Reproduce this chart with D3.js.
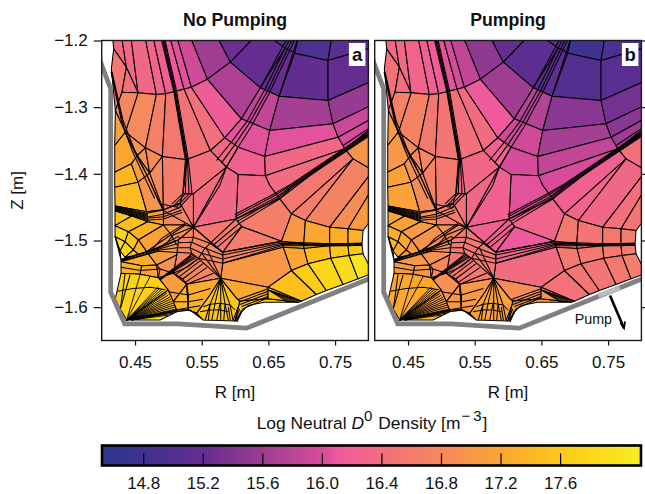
<!DOCTYPE html>
<html>
<head>
<meta charset="utf-8">
<style>
    html, body { margin: 0; padding: 0; background: #fff; }
    svg { display: block; }
    text { font-family: "Liberation Sans", Arial, sans-serif; fill: #111; }
    .domain { display: none; }
    .tick line { stroke: #111; stroke-width: 1.2px; }
    .tick text { font-size: 17px; }
</style>
<script src="https://d3js.org/d3.v7.min.js"></script>
</head>
<body>
<svg id="chart" width="645" height="494"></svg>
<script>
// R / Z in mm
var meshNodes = {
    T1:[416,-1192],T2:[429.5,-1192],T3:[443.5,-1192],T4:[464.5,-1192],T5:[476.5,-1192],T6:[490,-1192],T7:[501.5,-1192],T8:[512,-1192],
    T9:[532,-1192],T10:[572,-1192],T11:[632,-1192],T12:[647,-1192],T14:[695.5,-1192],T15:[745.5,-1192],T16:[807,-1192],
    A1:[418,-1212.5],A2:[437,-1240],A3:[454.5,-1278.5],A4:[482,-1281],A5:[496,-1280],A6:[509.5,-1276.5],A7:[523.5,-1273],A8:[534.5,-1270],
    A9:[558.5,-1258],A10:[593,-1232.5],A11:[638,-1271],A13:[666,-1283.5],A14:[739.5,-1290],A15:[807,-1260],
    X:[675.5,-1211],B1:[689.5,-1219],B2:[739.5,-1230],B3:[807,-1210],
    C0:[435.5,-1337.5],C1:[465.5,-1361],C2:[491,-1374],C3:[527,-1379],C4:[563,-1365],C5:[584.5,-1346],C6:[609.5,-1317.5],
    C8:[652,-1335],C9:[747,-1325],C10:[807,-1296],
    D1:[604.5,-1360],D2:[644.5,-1374],D3:[754.5,-1345],D4:[807,-1316],
    E0:[587,-1390],E1:[604.5,-1401],E2:[645.5,-1403],E3:[764.5,-1362.5],E4:[807,-1330],
    Th1:[807,-1336],G0:[652,-1417.5],G1:[667,-1437.5],H:[601.5,-1467.75],H2:[610,-1479.25],N:[537.5,-1480.25],
    V2:[777,-1377.5],V3:[807,-1395],Y3:[807,-1420],Y4:[807,-1465],
    P0:[684.5,-1460],P1:[705.5,-1470],P2:[742,-1480],P3:[769.5,-1482.5],P4:[792,-1485],
    Q0:[669.5,-1501],Q1:[703,-1506],Q2:[742,-1505],Q3:[769.5,-1504.5],Q4:[790.5,-1504],
    S0:[672,-1510],S1:[703.5,-1512],S2:[742,-1508],S3:[769.5,-1508],S4:[790.5,-1507],
    W0:[649.5,-1570],W1:[684.5,-1545],W2:[709.5,-1535],W3:[743.5,-1526.5],W4:[771,-1522.5],W5:[792,-1520],
    B0:[699.5,-1591],B1x:[722,-1581],B2x:[737,-1575],B3x:[762,-1566],B4x:[784.5,-1557.5],B5x:[807,-1549],
    K0:[430.5,-1277.5],K1:[420.5,-1305],N1:[414.5,-1242.5],
    L0:[419.5,-1357.5],L1:[419.5,-1397.5],L2:[419.5,-1420],L3:[420,-1448.25],
    M0:[444.5,-1385],M1:[453.5,-1372.5],I0:[472,-1399],I3:[492.5,-1454],
    J0:[454.5,-1412.5],J1:[461,-1434],J2:[467.5,-1457],Y0:[517.5,-1444.25],Y1:[522,-1430],Y2:[492,-1420],Y5:[537.5,-1430],
    ga:[420,-1455.75],gb:[445,-1463.25],gc:[469,-1471.75],gd:[492.5,-1476.75],ge:[525,-1476.75],
    ha:[420,-1477.75],hb:[440,-1486.75],hc:[455,-1499.25],hd:[467.5,-1516.75],
    ia:[420,-1494.25],ib:[435,-1501.75],ic:[447.5,-1514.25],id:[455,-1520.75],
    k0:[429,-1529.25],k1:[427.5,-1515.75],k2:[435,-1525.25],k3:[445,-1523.25],k4:[515,-1499.25],
    Z0:[581.5,-1517.75],Z1:[581.5,-1534.25],O:[578.5,-1556.75],p0:[527.5,-1565.75],p1:[562.5,-1581.75],p2:[542.5,-1609.25],p3:[530,-1604.25],
    e0:[429,-1549.25],e1:[457.5,-1550.75],e2:[485,-1555.75],e3:[507.5,-1549.25],d0:[429,-1531.75],d1:[460,-1537.75],d2:[482.5,-1536.75],d3:[512.5,-1521.75],
    f0:[420,-1589.25],hub:[437.5,-1619.25],f2:[500,-1574.25],f3:[507.5,-1591.75],f4:[512.5,-1604.25],
    dm1:[487.5,-1619.25],dm2:[512.5,-1606.75],dm3:[532.5,-1604.25],q0:[552.5,-1619.25],q1:[602.5,-1586.75],q2:[607.5,-1590.75],q3:[600,-1620.75],
    r0:[649.5,-1587.5],bd0:[695.5,-1592.5],r1:[644.5,-1592.5],r2:[619.5,-1597.5],r3:[609.5,-1607.5]
};

var cellCorners = [
    "T1 T2 A2 A1","T2 T3 A3 A2","T3 T4 A4 A3","T4 T5 A5 A4","T5 T6 A6 A5","T6 T7 A7 A6","T7 T8 A8 A7","T8 T9 A9 A8","T9 T10 A10 A9","T10 T11 A10",
    "A10 T11 T12 X A11","T12 T14 B1 X","T14 T15 B2 B1","T15 T16 B3 B2","X B1 A13 A11","B1 B2 A14 A13","B2 B3 A15 A14",
    "A3 A4 C1 C0","A4 A5 C2 C1","A5 A6 C3 C2","A6 A7 C4 C3","A7 A8 C5 C4","A8 A9 C6 C5","A9 A10 A11 C6","A11 A13 C8 C6","A13 A14 C9 C8","A14 A15 C10 C9",
    "C5 C6 C8 D2 D1","C8 C9 D3 D2","C9 C10 D4 D3","D3 D4 E4 E3","C4 C5 D1 E0","D1 D2 E2 E1 E0","D2 D3 E3 E2",
    "E2 E3 G1 G0","E3 E4 Th1","E3 Th1 V3 V2","E1 E2 G0 G1 H","E0 E1 H N","C3 C4 E0 Y5 Y1","Y5 E0 N",
    "E3 V2 P0 G1","V2 P1 P0","V2 V3 P2 P1","V3 Y3 P3 P2","Y3 Y4 P4 P3",
    "P0 P1 Q1 Q0","P1 P2 Q2 Q1","P2 P3 Q3 Q2","P3 P4 Q4 Q3",
    "Q0 Q1 S1 S0","Q1 Q2 S2 S1","Q2 Q3 S3 S2","Q3 Q4 S4 S3",
    "S0 S1 W2 W1","S1 S2 W3 W2","S2 S3 W4 W3","S3 S4 W5 W4",
    "W0 W1 B1x B0","W1 W2 B2x B1x","W2 W3 B3x B2x","W3 W4 B4x B3x","W4 W5 B5x B4x",
    "A1 A2 K0 K1 N1","A2 A3 K0","K1 K0 A3 C0","K1 C0 L0","L0 C0 M1 M0 L1","C0 C1 M1",
    "L1 M0 J0 L2","M0 M1 I0 J0","M1 C1 I0","C1 C2 I0","L2 J0 J1 J2 L3","J0 I0 I3 J2 J1",
    "I0 C2 Y2 I3","Y2 C2 C3 Y1 Y0 I3","Y1 Y5 N Y0","I3 Y0 N ge gd","J2 I3 gd gc","L3 J2 gc gb ga",
    "ga gb ha","gb gc hb ha","gc gd hc hb","gd ge hd hc",
    "ha hb ib ia","hb hc ic ib","hc hd id ic",
    "ia ib k1","ib ic k2 k1","ic id k3 k2","ia k1 k0","ge N k4 hd",
    "N H H2 Z0","H G1 P0 Q0 H2","H2 Q0 Z0","Z0 Q0 S0 Z1","Z1 S0 W1 W0 O","k4 N Z0 Z1 O p0 e3 d3",
    "k0 hd d2 d1 d0","hd k4 d3 d2","d0 d1 e1 e0","d1 d2 e2 e1","d2 d3 e3 e2",
    "f0 e0 e1 e2 f2 hub","hub f2 f3 f4","hub f4 dm2 dm1","f2 e2 e3 p0 f3","f3 p0 p3 f4","f4 p3 dm3 dm2",
    "p0 O p1 p2 p3","p3 p2 q0 dm3","O q1 q2 q3 q0 p2 p1","O W0 r0 q2 q1","q2 r0 bd0 r1 r2 r3 q3","r0 W0 B0 bd0"
];

// log10 density per cell, same order as cellCorners
var densityNoPump = [
    16.3,16.3,16.3,16.25,16.2,16.1,16.05,15.95,15.6,15.25,
    15.2,15.15,14.95,15.05,15.2,15.15,15.2,
    16.8,16.65,16.55,16.45,16.4,16.15,15.7,15.85,15.65,15.55,
    16.05,16.05,15.9,16.0,16.3,16.2,16.3,
    16.35,16.5,16.95,16.3,16.3,16.4,16.35,
    16.55,16.6,16.7,16.85,17.05,
    17.0,17.2,17.3,17.35,
    17.3,17.4,17.5,17.55,
    17.2,17.45,17.55,17.6,
    17.5,17.65,17.8,17.85,18.0,
    16.55,16.45,16.75,17.15,17.2,16.95,
    17.4,17.1,16.9,16.85,17.45,16.95,
    16.8,16.6,16.5,16.75,17.1,17.3,
    17.6,17.5,17.35,17.15,
    17.75,17.55,17.35,
    17.95,17.75,17.5,17.95,16.9,
    16.55,16.6,16.6,16.75,17.0,16.75,
    17.3,17.05,17.35,17.15,16.9,
    17.75,17.5,17.9,17.1,17.4,17.65,
    17.3,17.55,17.55,17.25,17.6,17.5
];
var densityPump = [
    16.3,16.3,16.25,16.2,16.15,16.05,16.0,15.85,15.5,15.2,
    15.1,15.0,14.75,14.9,15.1,15.0,15.05,
    16.7,16.55,16.5,16.4,16.35,16.1,15.6,15.75,15.45,15.3,
    15.95,15.65,15.45,15.6,16.2,16.0,15.85,
    16.0,16.1,16.4,16.05,16.2,16.3,16.3,
    16.2,16.25,16.3,16.4,16.5,
    16.55,16.5,16.55,16.6,
    16.5,16.55,16.55,16.6,
    16.55,16.55,16.55,16.6,
    16.45,16.5,16.5,16.55,16.6,
    16.45,16.4,16.65,17.05,17.0,16.8,
    17.15,16.9,16.75,16.75,17.15,16.85,
    16.7,16.55,16.45,16.65,16.95,17.0,
    17.2,17.15,17.05,16.95,
    17.3,17.2,17.05,
    17.4,17.25,17.15,17.45,16.75,
    16.2,16.25,16.1,16.25,16.35,16.55,
    17.0,16.9,17.0,16.95,16.8,
    17.25,17.1,17.4,16.9,17.0,17.2,
    17.0,17.15,17.15,16.85,17.1,16.9
];

// mesh lines that bunch together, drawn over the cells
var bundleLines = [
    [[684.5,-1192.5],[644.5,-1274],[617,-1322.5],[594.5,-1352.5],[572,-1380]],
    [[688.5,-1192.5],[648.5,-1276],[620.5,-1325.5],[599.5,-1356.5],[579.5,-1384]],
    [[692.5,-1192.5],[652,-1277.5],[624.5,-1328.5],[604.5,-1360],[587,-1390],[577,-1417.5],[537.5,-1480.25]],
    [[680.5,-1192.5],[638,-1271]],
    [[695.5,-1192.5],[666,-1283.5]],
    [[488,-1192.5],[508,-1276.5],[525.5,-1379],[521.5,-1430],[505.5,-1445]],
    [[490,-1192.5],[509.5,-1276.5],[527,-1379],[525.5,-1430],[508.5,-1447.5]],
    [[492,-1192.5],[511,-1276.5],[528.5,-1379],[531,-1430],[512,-1450]],
    [[493.5,-1192.5],[512.5,-1276.5],[530,-1379],[535.5,-1430],[514.5,-1452.5]],
    [[414.5,-1245],[434.5,-1337.5],[454.5,-1377.5],[469.5,-1405],[492,-1455],[537.5,-1480.25]],
    [[415.5,-1247.5],[432,-1320],[449.5,-1365],[464.5,-1395],[487,-1445],[513.5,-1450]],
    [[414,-1247.5],[429.5,-1320],[445.5,-1365],[459.5,-1395],[479.5,-1437.5]],
    // thick diagonal running into H
    [[807,-1333],[684.5,-1415],[657,-1431],[599.5,-1461]],
    [[807,-1335],[684.5,-1416.5],[659.5,-1432.5],[600.5,-1464]],
    [[807,-1336.5],[684.5,-1418],[662,-1435],[601.5,-1467.75]],
    [[807,-1338],[684.5,-1419.5],[663.5,-1436.5],[604,-1471]],
    [[807,-1339.5],[684.5,-1421],[665.5,-1438.5],[607,-1474]],
    [[762,-1357.5],[807,-1327.5]],
    // long near-horizontal bundle
    [[581.5,-1517.75],[669.5,-1502],[742,-1505],[790.5,-1504]],
    [[581.5,-1521.75],[669.5,-1504],[742,-1506],[790.5,-1505]],
    [[581.5,-1527.75],[669.5,-1506],[742,-1507],[790.5,-1506]],
    [[581.5,-1534.25],[669.5,-1508],[742,-1508],[790.5,-1507]],
    // thick line on the left
    [[429,-1530],[485,-1510.5],[516,-1493]],
    [[429,-1529],[485,-1511.75],[515,-1499.25]],
    [[429,-1528],[485,-1513],[513,-1505]],
    [[429,-1531],[485,-1514.5],[513,-1511]],
    [[429,-1531.75],[485,-1516],[513,-1518]],
    // wedge by the wall and its continuation
    [[420,-1448.25],[467.5,-1459.25],[492.5,-1454.25],[517.5,-1444.25]],
    [[420,-1449.25],[467.5,-1460.75]],[[420,-1450.25],[467.5,-1462.25]],[[420,-1451.25],[467.5,-1463.75]],
    [[420,-1452.25],[467.5,-1465.25],[492.5,-1460.75],[519,-1449.25]],
    [[420,-1453.25],[467.5,-1466.75]],[[420,-1454.25],[467.5,-1468.25]],[[420,-1455.25],[467.5,-1469.75]],
    [[467.5,-1466.75],[492.5,-1464.25],[520,-1454.25]],
    [[467.5,-1469.75],[492.5,-1467.75],[521,-1457.75]],
    [[525,-1474.25],[490,-1496.75],[475,-1514.25]],
    [[536,-1480.25],[507.5,-1491.75],[495,-1506.75]],
    [[492.5,-1476.75],[502.5,-1489.25],[512.5,-1506.75]],
    // web around the middle
    [[515,-1495.75],[537.5,-1495.25],[562.5,-1504.25],[581.5,-1517.75]],
    [[515,-1503.25],[535,-1502.75],[555,-1511.75],[581.5,-1521.75]],
    [[512.5,-1510.75],[532.5,-1510.75],[550,-1519.25],[581.5,-1527.75]],
    [[512.5,-1517.75],[535,-1519.25],[545,-1526.75],[581.5,-1534.25]],
    [[537.5,-1480.25],[537.5,-1495.25],[535,-1502.75],[532.5,-1510.75],[535,-1519.25],[525,-1531.75],[487.5,-1559.25]],
    [[562.5,-1504.25],[555,-1511.75],[550,-1519.25],[545,-1526.75],[530,-1539.25],[507.5,-1549.25]],
    [[537.5,-1480.25],[581.5,-1517.75]],
    [[601.5,-1467.75],[562.5,-1504.25]],[[606.5,-1474.25],[567.5,-1506.75]],[[610,-1479.25],[572.5,-1510.75]],
    [[578.5,-1556.75],[545,-1526.75]],[[578.5,-1556.75],[550,-1519.25]],[[578.5,-1556.75],[557,-1511]],
    [[540,-1523.25],[499.5,-1550.75]],[[542.5,-1524.75],[505.5,-1547.75]],[[535,-1520.75],[487.5,-1557.75]],[[537.5,-1521.75],[493.5,-1554.25]],
    [[545,-1526.75],[511.5,-1550.75]],[[548.5,-1529.75],[516.5,-1554.25]],[[552.5,-1534.25],[521.5,-1557.75]],[[557.5,-1540.75],[525.5,-1562.75]],[[567.5,-1549.25],[527.5,-1565.75]],
    [[487.5,-1542.75],[507.5,-1549.25],[521.5,-1557.75],[527.5,-1565.75],[530,-1581.75],[530,-1604.25]],
    [[482.5,-1536.75],[487.5,-1542.75],[485,-1555.75]],
    [[429,-1540],[458,-1545],[487,-1542.75]],
    // rows under the arc and the star below O
    [[500,-1577],[530,-1581.75],[563,-1572]],[[507.5,-1591.75],[530,-1591.75],[552,-1588]],[[512.5,-1604],[530,-1601],[548,-1598]],
    [[578.5,-1556.75],[578.5,-1620]],
    [[552.5,-1599.25],[562.5,-1595.75],[577.5,-1594.25],[592.5,-1596.75],[600,-1604.25]],
    [[547.5,-1606.75],[562.5,-1604.25],[577.5,-1604.25],[590,-1606.75]],
    [[578.5,-1556.75],[562.5,-1595.75],[555,-1620]],[[578.5,-1556.75],[570,-1594.5],[565,-1620]],
    [[578.5,-1556.75],[585,-1595],[590,-1620]],[[578.5,-1556.75],[592.5,-1596.75],[597,-1620]],
    [[577.5,-1594.25],[572.5,-1620]],[[585,-1595],[583,-1620]],[[590,-1600],[593,-1620]],[[562.5,-1595.75],[560,-1620]],
    // pocket on the right of the star
    [[649.5,-1572.5],[603.5,-1589]],[[649.5,-1576],[605.5,-1592.5]],[[649.5,-1580],[607.5,-1596]],[[649.5,-1584],[609.5,-1599]],[[649.5,-1586],[612,-1602.5]],
    [[604.5,-1600],[597,-1620]],[[607,-1602.5],[599.5,-1621]],[[609.5,-1605],[602,-1622]],[[612,-1602.5],[603,-1622]],
    // yellow block at the lower left
    [[429,-1599.25],[442.5,-1551.75]],[[427.5,-1606.75],[435,-1550.25]],[[424,-1576],[447,-1572],[473,-1570],[496,-1574]]
];

var fanHubs = [[437.5,-1619.25],[649.5,-1574],[445,-1619.25]];
var fanEnds = [
    [[457.5,-1551.75],[472.5,-1554.25],[485,-1569.25],[487.5,-1571.25],[490,-1573.25],[492.5,-1575.25],[495,-1577.25],[497.5,-1579.25],[500,-1581.75],[502.5,-1584.75],[504,-1587.75],[506,-1590.75],[507.5,-1593.75],[509,-1596.75],[510.5,-1599.75],[512,-1602.75],[512.5,-1605.25]],
    [[699.5,-1591],[697,-1591.5],[694,-1592],[690,-1592],[686,-1592.5],[682,-1592.5],[678,-1592]],
    [[512.5,-1605.75],[512.5,-1606.5],[500,-1612],[507,-1609]]
];

var wallPoints = [[397,-1229],[413.5,-1272.5],[413.5,-1577.5],[434.5,-1625],[514.5,-1625],[617,-1631.5],[807,-1555]];
var pumpPort = [[735.4,-1582.5],[768,-1571.5]];
var pumpArrow = [[752.9,-1582.5],[773.9,-1631.5]];

var rTicks = [0.45, 0.55, 0.65, 0.75];
var zTicks = [-1.2, -1.3, -1.4, -1.5, -1.6];
var cbarTicks = [14.8, 15.2, 15.6, 16.0, 16.4, 16.8, 17.2, 17.6];
var cbarStops = [14.52, 14.8, 15.2, 15.6, 16.0, 16.1, 16.4, 16.8, 17.2, 17.6, 18.14];
var cbarColors = ["#2b3590","#40318f","#662d91","#9e3d92","#d74c9a","#ef5a9d","#f26f7c","#f58a5c","#fba532","#fdc816","#f7ef22"];

var svg = d3.select("#chart");
var panelW = 266.7, panelH = 300, panelTop = 40.5;
var x = d3.scaleLinear().domain([0.40, 0.80]).range([0, panelW]);
var y = d3.scaleLinear().domain([-1.2, -1.65]).range([0, panelH]);
var color = d3.scaleLinear().domain(cbarStops).range(cbarColors).clamp(true);
var line = d3.line().x(function (d) { return x(d[0] / 1000); }).y(function (d) { return y(d[1] / 1000); });
var minus = function (d) { return d3.format(".1f")(d).replace("-", "\u2212\u2009\u200a"); };

svg.append("clipPath").attr("id", "plotClip").append("rect").attr("width", panelW).attr("height", panelH);

function drawPanel(left, title, letter, values, pump) {
    var g = svg.append("g").attr("transform", "translate(" + left + "," + panelTop + ")");
    var mesh = g.append("g").attr("clip-path", "url(#plotClip)");

    mesh.selectAll("path.cell").data(cellCorners).enter().append("path")
        .attr("class", "cell")
        .attr("d", function (d) {
            return line(d.split(" ").map(function (k) { return meshNodes[k]; })) + "Z";
        })
        .attr("fill", function (d, i) { return color(values[i]); })
        .attr("stroke", "#000").attr("stroke-width", 1.05).attr("stroke-linejoin", "round");

    mesh.selectAll("path.bundle").data(bundleLines).enter().append("path")
        .attr("class", "bundle").attr("d", line)
        .attr("fill", "none").attr("stroke", "#000").attr("stroke-width", 1.05);

    fanHubs.forEach(function (h, i) {
        mesh.selectAll("path.fan" + i).data(fanEnds[i]).enter().append("path")
            .attr("class", "fan" + i)
            .attr("d", function (e) { return line([h, e]); })
            .attr("fill", "none").attr("stroke", "#000").attr("stroke-width", 0.9);
    });

    mesh.append("path").attr("d", line(wallPoints)).attr("fill", "none")
        .attr("stroke", "#808080").attr("stroke-width", 4.8).attr("stroke-linejoin", "miter");

    if (pump) {
        mesh.append("path").attr("d", line(pumpPort)).attr("fill", "none")
            .attr("stroke", "#bdbdbd").attr("stroke-width", 4.8);
        mesh.append("path").attr("d", line(pumpArrow)).attr("fill", "none")
            .attr("stroke", "#000").attr("stroke-width", 2.6);
        var tip = pumpArrow[1];
        mesh.append("path")
            .attr("d", line([[tip[0] - 5.5, tip[1] + 8], tip, [tip[0] + 1.5, tip[1] + 10]]))
            .attr("fill", "none").attr("stroke", "#000").attr("stroke-width", 1.8);
        g.append("text").attr("x", x(0.7)).attr("y", y(-1.6255)).attr("font-size", 14.3).text("Pump");
    }

    g.append("rect").attr("x", panelW - 19.5).attr("y", 2.5).attr("width", 16.5).attr("height", 23).attr("fill", "#fff");
    g.append("text").attr("x", panelW - 11.2).attr("y", 20).attr("text-anchor", "middle")
        .attr("font-size", 18.5).attr("font-weight", "bold").text(letter);

    g.append("rect").attr("width", panelW).attr("height", panelH)
        .attr("fill", "none").attr("stroke", "#1a1a1a").attr("stroke-width", 1.4);

    g.append("g").attr("transform", "translate(0," + panelH + ")")
        .call(d3.axisBottom(x).tickValues(rTicks).tickFormat(d3.format(".2f")).tickSize(5).tickPadding(10));
    g.append("text").attr("x", panelW / 2).attr("y", panelH + 57).attr("text-anchor", "middle")
        .attr("font-size", 17).text("R [m]");
    g.append("text").attr("x", panelW / 2).attr("y", -15).attr("text-anchor", "middle")
        .attr("font-size", 17.7).attr("font-weight", "bold").text(title);
}

drawPanel(101.7, "No Pumping", "a", densityNoPump, false);
drawPanel(374.7, "Pumping", "b", densityPump, true);

// y axes
svg.append("g").attr("transform", "translate(101.7," + panelTop + ")")
    .call(d3.axisLeft(y).tickValues(zTicks).tickFormat(minus).tickSize(8).tickPadding(6));
svg.append("g").attr("transform", "translate(641.4," + panelTop + ")")
    .call(d3.axisRight(y).tickValues(zTicks).tickFormat("").tickSize(4));
svg.append("text").attr("transform", "translate(23,190.5) rotate(-90)").attr("text-anchor", "middle")
    .attr("font-size", 17).text("Z [m]");

// colour bar
var cbarLeft = 102, cbarW = 539, cbarTop = 445.5, cbarH = 20;
var cx = d3.scaleLinear().domain([14.52, 18.14]).range([0, cbarW]);
var cbar = svg.append("g").attr("transform", "translate(" + cbarLeft + "," + cbarTop + ")");
cbar.selectAll("rect").data(d3.range(0, cbarW)).enter().append("rect")
    .attr("x", function (d) { return d; }).attr("width", 1.5).attr("height", cbarH)
    .attr("fill", function (d) { return color(cx.invert(d)); });
cbar.append("rect").attr("width", cbarW).attr("height", cbarH).attr("fill", "none")
    .attr("stroke", "#000").attr("stroke-width", 2.6);
cbar.selectAll("line.t").data(cbarTicks).enter().append("line").attr("class", "t")
    .attr("x1", cx).attr("x2", cx).attr("y1", cbarH).attr("y2", cbarH - 12)
    .attr("stroke", "#000").attr("stroke-width", 1.2);
cbar.selectAll("text").data(cbarTicks).enter().append("text")
    .attr("x", cx).attr("y", 43).attr("text-anchor", "middle").attr("font-size", 17)
    .text(d3.format(".1f"));

var lab = svg.append("text").attr("x", 372).attr("y", 429).attr("text-anchor", "middle").attr("font-size", 17.4);
lab.append("tspan").text("Log Neutral ");
lab.append("tspan").attr("font-style", "italic").text("D");
lab.append("tspan").attr("dy", -8).attr("font-size", 15).text("0");
lab.append("tspan").attr("dy", 8).attr("dx", 6).text("Density [m");
lab.append("tspan").attr("dy", -8).attr("dx", 1).attr("font-size", 15).text("\u2212\u20093");
lab.append("tspan").attr("dy", 8).attr("dx", 1).text("]");
</script>
</body>
</html>
